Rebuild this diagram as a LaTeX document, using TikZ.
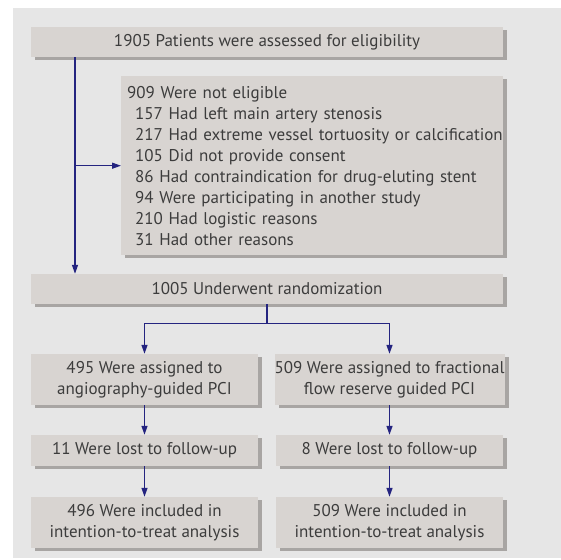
\documentclass[tikz,border=0pt]{standalone}
\usepackage{fontspec}
\setmainfont{PT Sans}
\usetikzlibrary{calc}
\usetikzlibrary{arrows.meta}
\usetikzlibrary{shadows}

\definecolor{panelgray}{RGB}{230,230,230}
\definecolor{boxgray}{RGB}{216,212,209}
\definecolor{shadowgray}{RGB}{168,165,163}
\definecolor{textgray}{RGB}{60,60,60}
\definecolor{arrowblue}{RGB}{36,36,128}

\newcommand{\reasonline}[1]{\hspace*{8pt}\mbox{#1}}

\tikzset{
  flowbox/.style = {fill = boxgray, text = textgray, align = center, inner sep = 0pt,
    font = \fontsize{17}{21}\selectfont,
    drop shadow = {shadow xshift = 4pt, shadow yshift = -3pt, fill = shadowgray, opacity = 1}},
  flowarrow/.style = {draw = arrowblue, line width = 1.3pt, -{Triangle[length = 9pt, width = 6pt]}},
  flowline/.style = {draw = arrowblue, line width = 1.3pt}
}

\begin{document}
\begin{tikzpicture}[x = 1pt, y = -1pt]

    \useasboundingbox (0,0) rectangle (561,559);
    \fill[panelgray] (13,8) rectangle (561,558);

    % boxes
    \node[flowbox, minimum width = 472pt, minimum height = 30pt] (assessed) at (267,42)
        {1905 Patients were assessed for eligibility};

    \node[flowbox, anchor = north west, minimum height = 179pt, text width = 370pt, inner xsep = 6pt, align = left] (excluded) at (121,76)
        {909 Were not eligible\\
         \reasonline{157 Had left main artery stenosis}\\
         \reasonline{217 Had extreme vessel tortuosity or calcification}\\
         \reasonline{105 Did not provide consent}\\
         \reasonline{86 Had contraindication for drug-eluting stent}\\
         \reasonline{94 Were participating in another study}\\
         \reasonline{210 Had logistic reasons}\\
         \reasonline{31 Had other reasons}};

    \node[flowbox, minimum width = 472pt, minimum height = 30pt] (random) at (267,289)
        {1005 Underwent randomization};

    \node[flowbox, minimum width = 227pt, minimum height = 51pt] (angioArm) at (144.5,379.5)
        {495 Were assigned to\\angiography-guided PCI};
    \node[flowbox, minimum width = 227pt, minimum height = 51pt] (ffrArm) at (389.5,379.5)
        {509 Were assigned to fractional\\flow reserve guided PCI};

    \node[flowbox, minimum width = 227pt, minimum height = 31pt] (angioLost) at (144.5,450.5)
        {11 Were lost to follow-up};
    \node[flowbox, minimum width = 227pt, minimum height = 31pt] (ffrLost) at (389.5,450.5)
        {8 Were lost to follow-up};

    \node[flowbox, minimum width = 227pt, minimum height = 51pt] (angioITT) at (144.5,522.5)
        {496 Were included in\\intention-to-treat analysis};
    \node[flowbox, minimum width = 227pt, minimum height = 51pt] (ffrITT) at (389.5,522.5)
        {509 Were included in\\intention-to-treat analysis};

    % connectors
    \coordinate (trunk) at (75,0);
    \draw[flowarrow] (trunk |- assessed.south) -- (trunk |- random.north);
    \draw[flowarrow] (trunk |- excluded.west) -- (excluded.west);

    \draw[flowline] (random.south) -- ++(0,19) coordinate (split);
    \draw[flowarrow] (split) -| (angioArm.north);
    \draw[flowarrow] (split) -| (ffrArm.north);

    \draw[flowarrow] (angioArm.south) -- (angioLost.north);
    \draw[flowarrow] (angioLost.south) -- (angioITT.north);
    \draw[flowarrow] (ffrArm.south) -- (ffrLost.north);
    \draw[flowarrow] (ffrLost.south) -- (ffrITT.north);

\end{tikzpicture}
\end{document}
